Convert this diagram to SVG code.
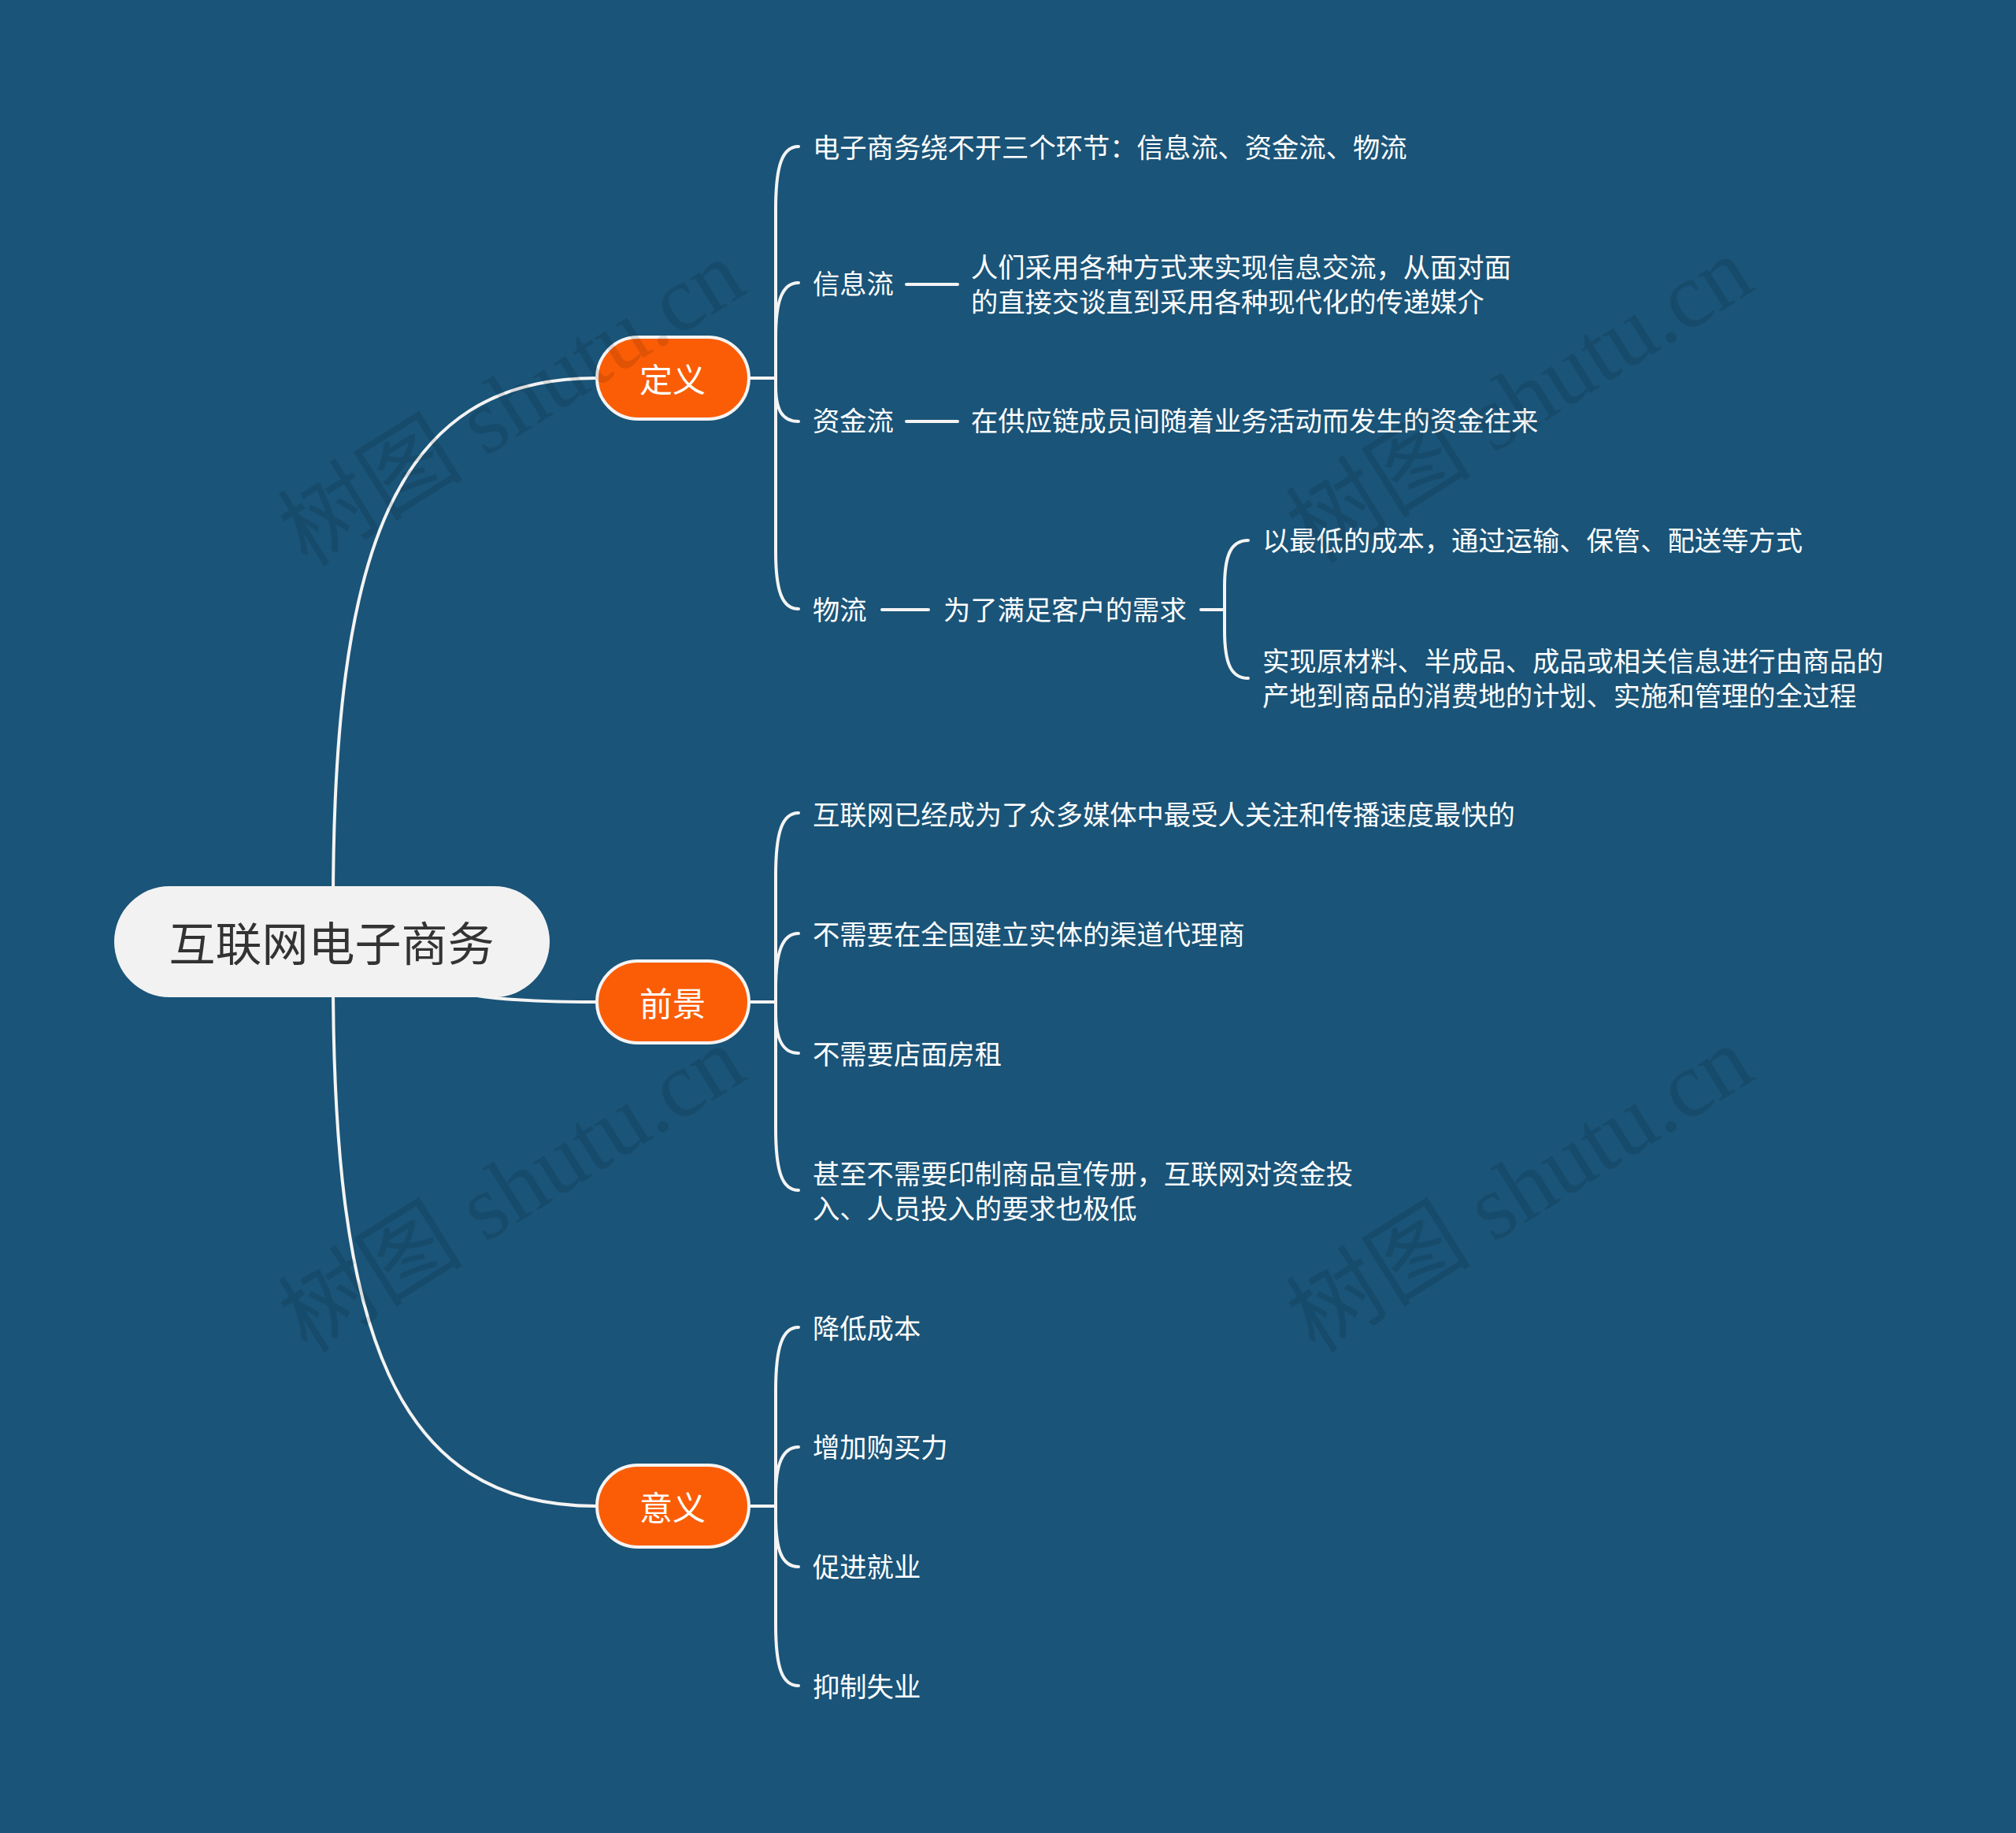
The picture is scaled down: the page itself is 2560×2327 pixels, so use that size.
<svg xmlns="http://www.w3.org/2000/svg" width="2560" height="2327" viewBox="0 0 2560 2327">
<style>
.bg{fill:#1a5478}
.ln{fill:none;stroke:#f4f4f4;stroke-width:4;stroke-linecap:round}
.t{font-family:"Noto Sans CJK SC","Liberation Sans",sans-serif;font-size:34.3px;fill:#ffffff;dominant-baseline:central}
.main{fill:#fa5d06;stroke:#f4f4f4;stroke-width:4}
.mt{font-family:"Noto Sans CJK SC","Liberation Sans",sans-serif;font-size:42px;fill:#ffffff;text-anchor:middle;dominant-baseline:central}
.root{fill:#f2f2f2}
.rt{font-family:"Noto Sans CJK SC","Liberation Sans",sans-serif;font-size:59px;fill:#333333;text-anchor:middle;dominant-baseline:central}
.wm{font-family:"Liberation Serif","Noto Sans CJK SC",serif;font-size:118px;fill:#000000;fill-opacity:0.1;text-anchor:middle;dominant-baseline:central}
</style>
<rect class="bg" x="0" y="0" width="2560" height="2327"/>
<g id="connectors">
<path class="ln" d="M423 1150 C423 700 500 480 757 480"/>
<path class="ln" d="M423 1240 C423 1690 500 1912 757 1912"/>
<path class="ln" d="M430 1232 C590 1263 620 1272 757 1272"/>
<path class="ln" d="M952 480 L985 480"/>
<path class="ln" d="M985 480 L985 266 C985 211 993 186 1014 186"/>
<path class="ln" d="M985 480 L985 428 C985 383 993 359 1014 359"/>
<path class="ln" d="M985 480 L985 490 C985 520 993 535 1014 535"/>
<path class="ln" d="M985 480 L985 700 C985 750 993 773 1014 773"/>
<path class="ln" d="M1151 361 L1216 361"/>
<path class="ln" d="M1151 535 L1216 535"/>
<path class="ln" d="M1120 774 L1179 774"/>
<path class="ln" d="M1525 774 L1555 774"/>
<path class="ln" d="M1555 774 L1555 745 C1555 705 1563 686 1585 686"/>
<path class="ln" d="M1555 774 L1555 800 C1555 842 1563 861 1585 861"/>
<path class="ln" d="M952 1272 L985 1272"/>
<path class="ln" d="M985 1272 L985 1112 C985 1057 993 1032 1014 1032"/>
<path class="ln" d="M985 1272 L985 1255 C985 1210 993 1185 1014 1185"/>
<path class="ln" d="M985 1272 L985 1285 C985 1318 993 1337 1014 1337"/>
<path class="ln" d="M985 1272 L985 1432 C985 1487 993 1511 1014 1511"/>
<path class="ln" d="M952 1912 L985 1912"/>
<path class="ln" d="M985 1912 L985 1766 C985 1711 993 1685 1014 1685"/>
<path class="ln" d="M985 1912 L985 1898 C985 1860 993 1837 1014 1837"/>
<path class="ln" d="M985 1912 L985 1925 C985 1968 993 1989 1014 1989"/>
<path class="ln" d="M985 1912 L985 2062 C985 2117 993 2140 1014 2140"/>
</g>
<g id="root">
<rect class="root" x="145" y="1125" width="553" height="141" rx="70.5"/>
<text class="rt" x="421" y="1194">互联网电子商务</text>
</g>
<g id="n-dingyi">
<rect class="main" x="758" y="428" width="193" height="104" rx="52"/>
<text class="mt" x="854" y="479">定义</text>
</g>
<g id="n-qianjing">
<rect class="main" x="758" y="1220" width="193" height="104" rx="52"/>
<text class="mt" x="854" y="1271">前景</text>
</g>
<g id="n-yiyi">
<rect class="main" x="758" y="1860" width="193" height="104" rx="52"/>
<text class="mt" x="854" y="1911">意义</text>
</g>
<g id="c-1"><text class="t" x="1032" y="185">电子商务绕不开三个环节：信息流、资金流、物流</text></g>
<g id="c-2"><text class="t" x="1032" y="358">信息流</text></g>
<g id="c-2a"><text class="t" x="1233" y="337">人们采用各种方式来实现信息交流，从面对面</text><text class="t" x="1233" y="381">的直接交谈直到采用各种现代化的传递媒介</text></g>
<g id="c-3"><text class="t" x="1032" y="532">资金流</text></g>
<g id="c-3a"><text class="t" x="1233" y="532">在供应链成员间随着业务活动而发生的资金往来</text></g>
<g id="c-4"><text class="t" x="1032" y="772">物流</text></g>
<g id="c-4a"><text class="t" x="1198" y="772">为了满足客户的需求</text></g>
<g id="c-4a1"><text class="t" x="1603" y="684">以最低的成本，通过运输、保管、配送等方式</text></g>
<g id="c-4a2"><text class="t" x="1603" y="837">实现原材料、半成品、成品或相关信息进行由商品的</text><text class="t" x="1603" y="881">产地到商品的消费地的计划、实施和管理的全过程</text></g>
<g id="q-1"><text class="t" x="1032" y="1032">互联网已经成为了众多媒体中最受人关注和传播速度最快的</text></g>
<g id="q-2"><text class="t" x="1032" y="1184">不需要在全国建立实体的渠道代理商</text></g>
<g id="q-3"><text class="t" x="1032" y="1336">不需要店面房租</text></g>
<g id="q-4"><text class="t" x="1032" y="1488">甚至不需要印制商品宣传册，互联网对资金投</text><text class="t" x="1032" y="1532">入、人员投入的要求也极低</text></g>
<g id="y-1"><text class="t" x="1032" y="1684">降低成本</text></g>
<g id="y-2"><text class="t" x="1032" y="1835">增加购买力</text></g>
<g id="y-3"><text class="t" x="1032" y="1987">促进就业</text></g>
<g id="y-4"><text class="t" x="1032" y="2139">抑制失业</text></g>
<g id="watermarks">
<text class="wm" transform="translate(650,512) rotate(-32)">树图 shutu.cn</text>
<text class="wm" transform="translate(1930,508) rotate(-32)">树图 shutu.cn</text>
<text class="wm" transform="translate(650,1510) rotate(-32)">树图 shutu.cn</text>
<text class="wm" transform="translate(1930,1510) rotate(-32)">树图 shutu.cn</text>
</g>
</svg>
